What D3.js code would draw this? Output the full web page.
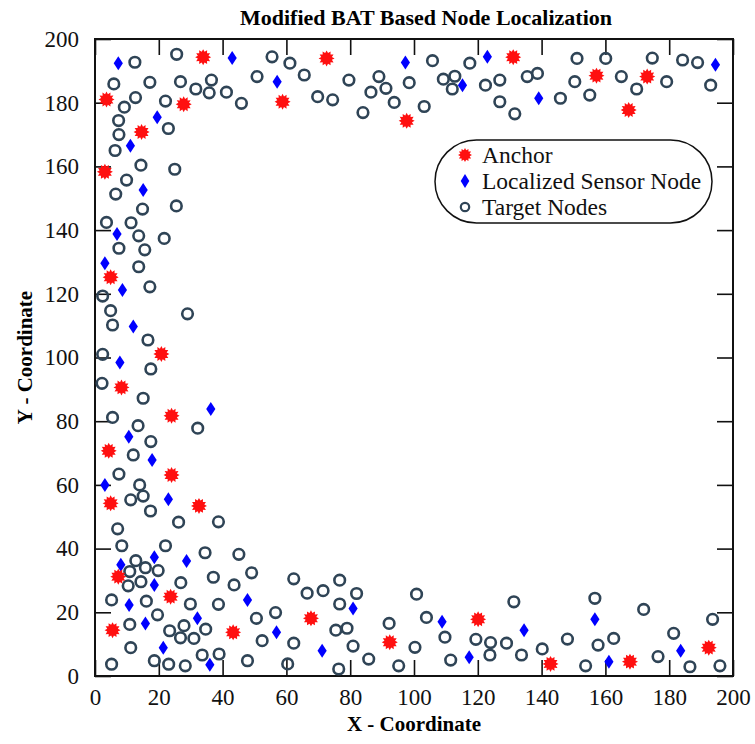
<!DOCTYPE html>
<html>
<head>
<meta charset="utf-8">
<script src="https://cdn.jsdelivr.net/npm/d3@7"></script>
<style>
  body { margin: 0; background: #fff; }
  svg text { font-family: "Liberation Serif", "Times New Roman", serif; }
  .tick text { font-size: 23px; fill: #111; }
  .tick line { stroke: #111; stroke-width: 1.6px; }
  .axis-title { font-size: 21px; font-weight: bold; }
  .chart-title { font-size: 22px; font-weight: bold; }
  .legend-label { font-size: 23.5px; fill: #111; }
</style>
</head>
<body>
<div id="chart"></div>
<script>
// Anchor nodes [x, y]
const anchors = [
  [33.9,194.3],[72.6,193.9],[131.1,194.3],[157.2,188.5],[173.1,188.2],[167.3,177.7],
  [97.7,174.3],[58.8,180.3],[27.8,179.5],[3.6,181.0],[14.6,170.8],[3.1,158.3],
  [4.9,125.2],[20.8,101.1],[8.3,90.6],[24.0,81.7],[4.3,70.7],[24.0,63.1],
  [4.9,54.2],[32.6,53.4],[7.3,31.2],[23.7,24.9],[5.5,14.4],[43.3,13.7],
  [67.7,18.1],[92.4,10.6],[120.1,17.8],[142.8,3.8],[167.7,4.5],[192.4,8.9]
];

// Localized sensor nodes [x, y]
const localized = [
  [7.3,192.4],[43.0,194.0],[57.1,186.6],[97.3,192.6],[115.2,185.5],[123.0,194.4],
  [139.1,181.4],[194.5,191.9],[19.5,175.4],[11.1,166.5],[15.1,152.6],[6.9,138.8],
  [3.1,129.6],[8.6,121.2],[12.0,109.7],[7.8,98.4],[36.3,83.8],[10.6,75.1],
  [17.9,67.8],[3.1,60.0],[23.0,55.5],[8.1,34.9],[18.6,37.3],[28.7,36.1],
  [18.6,28.6],[10.7,22.3],[47.8,23.9],[32.1,18.1],[15.8,16.5],[56.9,13.7],
  [21.4,8.9],[36.0,3.5],[71.2,7.9],[80.9,21.2],[108.8,17.0],[117.3,5.9],
  [134.5,14.4],[156.7,17.8],[161.1,4.5],[183.6,7.9]
];

// Target nodes [x, y]
const targets = [
  [12.5,192.7],[25.6,195.2],[55.5,194.4],[61.1,192.4],[65.6,188.7],[5.9,185.9],
  [17.2,186.4],[26.8,186.6],[31.6,184.3],[36.5,187.1],[35.8,183.1],[41.2,183.3],
  [45.9,179.8],[50.8,188.2],[12.7,181.6],[9.2,178.6],[22.1,180.5],[7.4,174.4],
  [23.0,171.9],[7.5,170.0],[6.3,165.0],[14.4,160.4],[25.0,159.1],[9.9,155.7],
  [6.5,151.3],[14.9,146.6],[25.5,147.6],[3.6,142.4],[11.3,142.3],[13.7,138.2],
  [21.7,137.4],[7.5,134.3],[15.6,133.8],
  [69.8,181.9],[74.5,180.9],[79.6,187.1],[84.0,176.9],[86.5,183.3],[89.0,188.2],
  [91.2,184.5],[93.8,180.1],[98.5,186.3],[103.2,178.8],[105.8,193.2],[109.2,187.4],
  [112.8,188.3],[112.0,184.3],[117.5,192.4],[122.4,185.5],[126.9,187.1],[126.9,180.3],
  [131.6,176.5],[135.5,188.2],[138.7,189.2],[145.9,181.4],[151.1,193.9],[150.4,186.6],
  [155.1,182.4],[160.1,193.9],[165.0,188.2],[169.8,184.3],[174.7,194.0],[179.2,186.6],
  [184.2,193.4],[188.9,192.6],[193.0,185.5],
  [13.7,128.5],[17.2,122.2],[2.4,119.3],[4.9,114.7],[29.0,113.7],[5.5,110.2],
  [16.6,105.5],[2.4,101.0],[17.5,96.4],[2.2,91.9],[15.1,87.2],[5.5,81.2],
  [13.5,78.6],[32.2,77.8],[17.5,73.6],[12.0,69.4],[7.5,63.4],[14.0,60.0],
  [11.2,55.3],[15.1,56.5],[17.4,51.8],[26.2,48.3],[38.7,48.4],[7.1,46.2],
  [8.4,40.9],[22.1,40.9],[12.8,36.2],[34.5,38.7],[45.1,38.2],[10.9,32.8],
  [15.8,34.0],[19.8,33.1],[49.1,32.4],[37.1,31.0],[62.3,30.5],[10.4,28.3],
  [14.4,29.6],[26.9,29.3],[43.6,28.6],[66.5,26.0],[5.2,23.9],[16.1,23.5],
  [29.9,22.6],[38.7,22.5],[19.6,19.2],[50.6,18.1],[56.6,19.9],[10.9,16.2],
  [23.4,14.2],[27.9,15.8],[26.8,12.0],[31.0,11.8],[34.7,14.7],[52.4,11.1],
  [62.3,10.3],[11.2,8.9],[33.6,6.6],[38.9,6.9],[18.6,4.8],[5.2,3.7],
  [23.1,3.7],[28.3,3.2],[47.8,4.8],[60.4,3.8],
  [71.5,26.8],[76.7,30.1],[82.0,25.9],[76.7,22.6],[75.5,14.4],[79.0,15.0],
  [80.9,9.4],[85.8,5.3],[76.4,2.2],[92.2,16.5],[95.2,3.2],[100.8,25.7],
  [103.9,18.4],[100.3,9.0],[109.7,12.2],[111.5,5.0],[119.4,11.5],[124.0,10.5],
  [123.8,6.6],[129.0,10.3],[131.3,23.3],[133.7,6.6],[140.2,8.5],[148.1,11.6],
  [153.8,3.2],[156.7,24.4],[157.7,9.7],[162.6,11.8],[172.0,20.9],[176.5,6.1],
  [181.4,13.4],[186.5,2.9],[193.6,17.8],[195.9,3.2]
];

const xTicks = [0, 20, 40, 60, 80, 100, 120, 140, 160, 180, 200];
const yTicks = [0, 20, 40, 60, 80, 100, 120, 140, 160, 180, 200];
const legendLabels = ["Anchor", "Localized Sensor Node", "Target Nodes"];

const width = 755, height = 744;
const margin = { top: 39, right: 22, bottom: 68, left: 95 };
const innerW = width - margin.left - margin.right;
const innerH = height - margin.top - margin.bottom;

const svg = d3.select("#chart").append("svg")
  .attr("width", width)
  .attr("height", height);

const g = svg.append("g")
  .attr("transform", `translate(${margin.left},${margin.top})`);

const x = d3.scaleLinear().domain([0, 200]).range([0, innerW]);
const y = d3.scaleLinear().domain([0, 200]).range([innerH, 0]);

const tickLen = 16;

// bottom / left axes with labels, ticks pointing inward
g.append("g")
  .attr("transform", `translate(0,${innerH})`)
  .call(d3.axisBottom(x).tickValues(xTicks).tickSizeInner(-tickLen).tickSizeOuter(0).tickPadding(13))
  .call(a => a.select(".domain").remove());

g.append("g")
  .call(d3.axisLeft(y).tickValues(yTicks).tickSizeInner(-tickLen).tickSizeOuter(0).tickPadding(16))
  .call(a => a.select(".domain").remove());

// mirrored ticks on top / right
g.append("g")
  .call(d3.axisTop(x).tickValues(xTicks).tickSizeInner(-tickLen).tickSizeOuter(0).tickFormat(""))
  .call(a => a.select(".domain").remove());

g.append("g")
  .attr("transform", `translate(${innerW},0)`)
  .call(d3.axisRight(y).tickValues(yTicks).tickSizeInner(-tickLen).tickSizeOuter(0).tickFormat(""))
  .call(a => a.select(".domain").remove());

g.append("rect")
  .attr("width", innerW)
  .attr("height", innerH)
  .attr("fill", "none")
  .attr("stroke", "#111")
  .attr("stroke-width", 2);

// marker shapes
function starPath(rOut, rIn, n) {
  const pts = [];
  for (let i = 0; i < n * 2; i++) {
    const r = i % 2 === 0 ? rOut : rIn;
    const a = Math.PI * i / n - Math.PI / 2;
    pts.push([r * Math.cos(a), r * Math.sin(a)]);
  }
  return "M" + pts.map(p => p.join(",")).join("L") + "Z";
}
function diamondPath(w, h) {
  return `M0,${-h}L${w},0L0,${h}L${-w},0Z`;
}

const circleColor = "#2f4456";

const dots = g.append("g");

dots.selectAll(".target")
  .data(targets)
  .enter().append("circle")
  .attr("class", "target")
  .attr("cx", d => x(d[0]))
  .attr("cy", d => y(d[1]))
  .attr("r", 5.3)
  .attr("fill", "none")
  .attr("stroke", circleColor)
  .attr("stroke-width", 2.6);

dots.selectAll(".localized")
  .data(localized)
  .enter().append("path")
  .attr("class", "localized")
  .attr("d", diamondPath(4.6, 7))
  .attr("transform", d => `translate(${x(d[0])},${y(d[1])})`)
  .attr("fill", "#0000ff");

dots.selectAll(".anchor")
  .data(anchors)
  .enter().append("path")
  .attr("class", "anchor")
  .attr("d", starPath(8, 5.5, 12))
  .attr("transform", d => `translate(${x(d[0])},${y(d[1])})`)
  .attr("fill", "#ff1010");

// title and axis titles
svg.append("text")
  .attr("class", "chart-title")
  .attr("x", 426)
  .attr("y", 25)
  .attr("text-anchor", "middle")
  .text("Modified BAT Based Node Localization");

svg.append("text")
  .attr("class", "axis-title")
  .attr("x", margin.left + innerW / 2)
  .attr("y", 731)
  .attr("text-anchor", "middle")
  .text("X - Coordinate");

svg.append("text")
  .attr("class", "axis-title")
  .attr("transform", `translate(32,${margin.top + innerH / 2}) rotate(-90)`)
  .attr("text-anchor", "middle")
  .text("Y - Coordinate");

// legend
const legend = svg.append("g").attr("transform", "translate(435,140)");
legend.append("rect")
  .attr("width", 277)
  .attr("height", 83)
  .attr("rx", 41.5)
  .attr("ry", 41.5)
  .attr("fill", "#fff")
  .attr("stroke", "#111")
  .attr("stroke-width", 1.5);

const items = legend.selectAll(".legend-item")
  .data(legendLabels)
  .enter().append("g")
  .attr("class", "legend-item")
  .attr("transform", (d, i) => `translate(30,${15 + i * 26})`);

items.filter((d, i) => i === 0).append("path")
  .attr("d", starPath(7, 4.8, 12)).attr("fill", "#ff1010");
items.filter((d, i) => i === 1).append("path")
  .attr("d", diamondPath(4.3, 7)).attr("fill", "#0000ff");
items.filter((d, i) => i === 2).append("circle")
  .attr("r", 4.2).attr("fill", "none").attr("stroke", circleColor).attr("stroke-width", 2.2);

items.append("text")
  .attr("class", "legend-label")
  .attr("x", 17)
  .attr("dy", "0.35em")
  .text(d => d);
</script>
</body>
</html>
